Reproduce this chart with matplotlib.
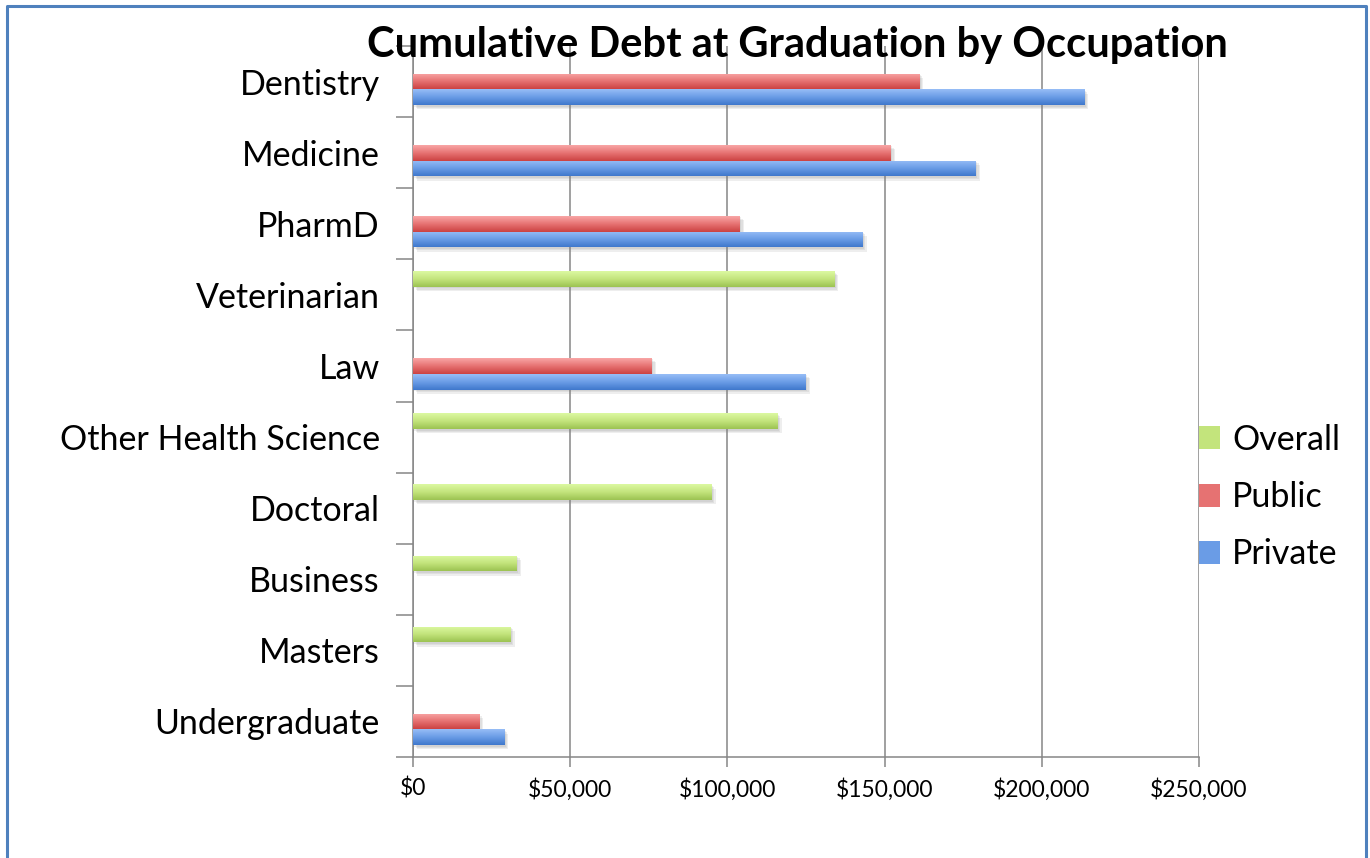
import numpy as np
import matplotlib
matplotlib.use("Agg")
import matplotlib.pyplot as plt
from matplotlib import patheffects
from matplotlib.patches import Patch
from matplotlib.lines import Line2D
from matplotlib.ticker import FuncFormatter

# debt at graduation, in dollars (nan = no value for that series)
categories = ["Dentistry", "Medicine", "PharmD", "Veterinarian", "Law",
              "Other Health Science", "Doctoral", "Business", "Masters", "Undergraduate"]
overall = [np.nan, np.nan, np.nan, 134000, np.nan, 116000, 95000, 33000, 31000, np.nan]
public = [161000, 152000, 104000, np.nan, 76000, np.nan, np.nan, np.nan, np.nan, 21000]
private = [213500, 179000, 143000, np.nan, 125000, np.nan, np.nan, np.nan, np.nan, 29000]
x_ticks = [0, 50000, 100000, 150000, 200000, 250000]

# light (top) -> dark (bottom) shades for each series
shades = {
    "Overall": ("#dcf9a2", "#c3e47c", "#9cc352"),
    "Public": ("#f9a6a6", "#e67272", "#cc4242"),
    "Private": ("#97bdf6", "#6a9ce6", "#3f78cc"),
}

plt.rcParams["font.family"] = ["Lato", "DejaVu Sans"]

fig = plt.figure(figsize=(13.7, 8.58), dpi=100)
ax = fig.add_axes([413 / 1370, 1 - 757 / 858, (1199 - 413) / 1370, (757 - 46) / 858])

y = np.arange(len(categories))
h = 1 / 4.5
series = [("Overall", overall, -h), ("Public", public, 0.0), ("Private", private, h)]


def gradient(cols, n=64):
    c = [np.array(matplotlib.colors.to_rgb(k)) for k in cols]
    rows = []
    for v in np.linspace(0, 1, n):
        if v < 0.5:
            rows.append(c[0] + (c[1] - c[0]) * v / 0.5)
        else:
            rows.append(c[1] + (c[2] - c[1]) * (v - 0.5) / 0.5)
    return np.array(rows)[:, None, :]


# soft drop shadow: a few stacked faint offsets
shadow = [patheffects.SimplePatchShadow(offset=(d, -d), shadow_rgbFace="#808080", alpha=0.13)
          for d in (1.0, 2.0, 3.0)] + [patheffects.Normal()]

for name, vals, off in series:
    bars = ax.barh(y + off, vals, height=h, color=shades[name][1], edgecolor="none", zorder=3)
    img = gradient(shades[name])
    for p in bars.patches:
        if not np.isfinite(p.get_width()) or p.get_width() == 0:
            continue
        p.set_path_effects(shadow)
        x0, y0 = p.get_x(), p.get_y()
        x1, y1 = x0 + p.get_width(), y0 + p.get_height()
        im = ax.imshow(img, extent=(x0, x1, y1, y0), origin="upper", aspect="auto",
                       interpolation="bilinear", zorder=4)
        im.set_clip_path(p)

ax.set_xlim(0, 250000)
ax.set_ylim(len(categories) - 0.5, -0.5)

# gridlines and axes
ax.set_xticks(x_ticks)
ax.xaxis.set_major_formatter(FuncFormatter(lambda v, pos: "${:,.0f}".format(v)))
ax.grid(axis="x", color="#868686", linewidth=1.1, zorder=0)
ax.set_axisbelow(True)
for s in ["top", "right"]:
    ax.spines[s].set_visible(False)
for s in ["left", "bottom"]:
    ax.spines[s].set_color("#868686")
    ax.spines[s].set_linewidth(1.1)
ax.tick_params(axis="x", length=7, width=1.1, color="#868686", labelsize=16.5, pad=8)

# category boundary ticks, labels at centres
ax.set_yticks(np.arange(len(categories) + 1) - 0.5)
ax.set_yticklabels([])
ax.set_yticks(y, minor=True)
ax.set_yticklabels(categories, minor=True)
ax.tick_params(axis="y", which="major", length=12, width=1.1, color="#868686")
ax.tick_params(axis="y", which="minor", length=0, labelsize=24.5, pad=24)

fig.text(0.582, 1 - 45 / 858, "Cumulative Debt at Graduation by Occupation",
         ha="center", va="center", fontsize=30, fontweight="bold")

handles = [Patch(facecolor=shades[n][1], edgecolor="none") for n in ["Overall", "Public", "Private"]]
fig.legend(handles, ["Overall", "Public", "Private"], loc="center left",
           bbox_to_anchor=(1199 / 1370, 1 - 497 / 858), frameon=False, fontsize=24.5,
           handlelength=0.62, handleheight=0.66, handletextpad=0.35, labelspacing=0.74,
           borderpad=0, borderaxespad=0)

# outer frame (open at the bottom)
fx = [6.5 / 1370, 6.5 / 1370, 1365.5 / 1370, 1365.5 / 1370]
fy = [0, 1 - 5.5 / 858, 1 - 5.5 / 858, 0]
fig.add_artist(Line2D(fx, fy, transform=fig.transFigure, color="#4f81bd", linewidth=2.2))

fig.savefig("out.png", dpi=100, facecolor="white")
